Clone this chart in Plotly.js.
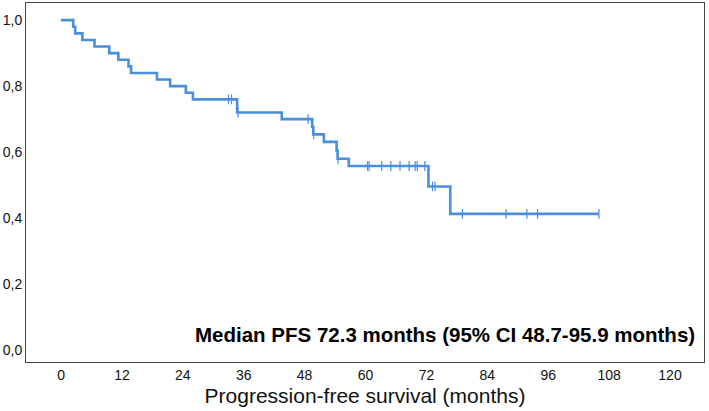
<!DOCTYPE html>
<html>
<head>
<meta charset="utf-8">
<script src="https://cdn.plot.ly/plotly-3.0.1.min.js"></script>
<style>html,body{margin:0;padding:0;background:#fff;}#chart{width:709px;height:411px;}</style>
</head>
<body>
<div id="chart"></div>
<script>
// Kaplan-Meier step points (months, survival proportion)
var stepTimes = [0, 2.4, 2.8, 4.2, 6.6, 9.5, 11.3, 13.3, 13.8, 18.9, 21.5, 24.6, 26.0, 34.7, 43.5, 49.5, 49.7, 51.8, 54.3, 54.5, 56.7, 72.4, 76.7, 106.0];
var survival  = [1.0, 0.98, 0.96, 0.94, 0.92, 0.90, 0.88, 0.86, 0.84, 0.82, 0.80, 0.78, 0.76, 0.72, 0.70, 0.677, 0.654, 0.631, 0.605, 0.58, 0.558, 0.496, 0.413, 0.413];
// Censored observations (months)
var censorTimes = [33.0, 33.6, 34.9, 48.7, 49.8, 54.6, 60.4, 60.7, 63.2, 65.0, 66.8, 68.6, 69.8, 70.2, 71.7, 73.2, 73.7, 79.1, 87.7, 91.8, 93.9, 106.0];
// Axis ticks
var xTickVals = [0, 12, 24, 36, 48, 60, 72, 84, 96, 108, 120];
var yTickVals = [0, 0.2, 0.4, 0.6, 0.8, 1.0];
var yTickText = ["0,0", "0,2", "0,4", "0,6", "0,8", "1,0"];
var annotationText = "Median PFS 72.3 months (95% CI 48.7-95.9 months)";
var xTitle = "Progression-free survival (months)";

function survAt(t) {
  var s = survival[0];
  for (var i = 0; i < stepTimes.length; i++) {
    if (stepTimes[i] <= t) s = survival[i];
  }
  return s;
}
var censorSurv = censorTimes.map(survAt);

var lineColor = "rgb(74,142,222)";

var traces = [
  {
    x: stepTimes, y: survival, type: "scatter", mode: "lines",
    line: {shape: "hv", color: lineColor, width: 2.6},
    hoverinfo: "skip", showlegend: false
  },
  {
    x: censorTimes, y: censorSurv, type: "scatter", mode: "markers",
    marker: {symbol: "line-ns", size: 7, line: {color: lineColor, width: 1.2}},
    hoverinfo: "skip", showlegend: false
  }
];

var layout = {
  width: 709, height: 411,
  margin: {l: 26, r: 5, t: 3, b: 49},
  paper_bgcolor: "#fff", plot_bgcolor: "#fff",
  font: {family: "Liberation Sans, Arial, sans-serif", color: "#111"},
  showlegend: false,
  xaxis: {
    range: [-6.9, 126.7], tickvals: xTickVals, ticks: "",
    showgrid: false, zeroline: false,
    showline: true, mirror: true, linecolor: "#444", linewidth: 1,
    tickfont: {size: 14, color: "#111"},
    title: {text: xTitle, font: {size: 21, color: "#111"}, standoff: 6}
  },
  yaxis: {
    range: [-0.036, 1.052], tickvals: yTickVals, ticktext: yTickText, ticks: "",
    showgrid: false, zeroline: false,
    showline: true, mirror: true, linecolor: "#444", linewidth: 1,
    tickfont: {size: 14, color: "#111"}
  },
  annotations: [{
    text: "<b>" + annotationText + "</b>",
    xref: "paper", yref: "paper", x: 0.99, y: 0.077,
    xanchor: "right", yanchor: "middle", showarrow: false,
    font: {size: 20.5, color: "#000"}
  }]
};

Plotly.newPlot("chart", traces, layout, {displayModeBar: false, staticPlot: true});
</script>
</body>
</html>
